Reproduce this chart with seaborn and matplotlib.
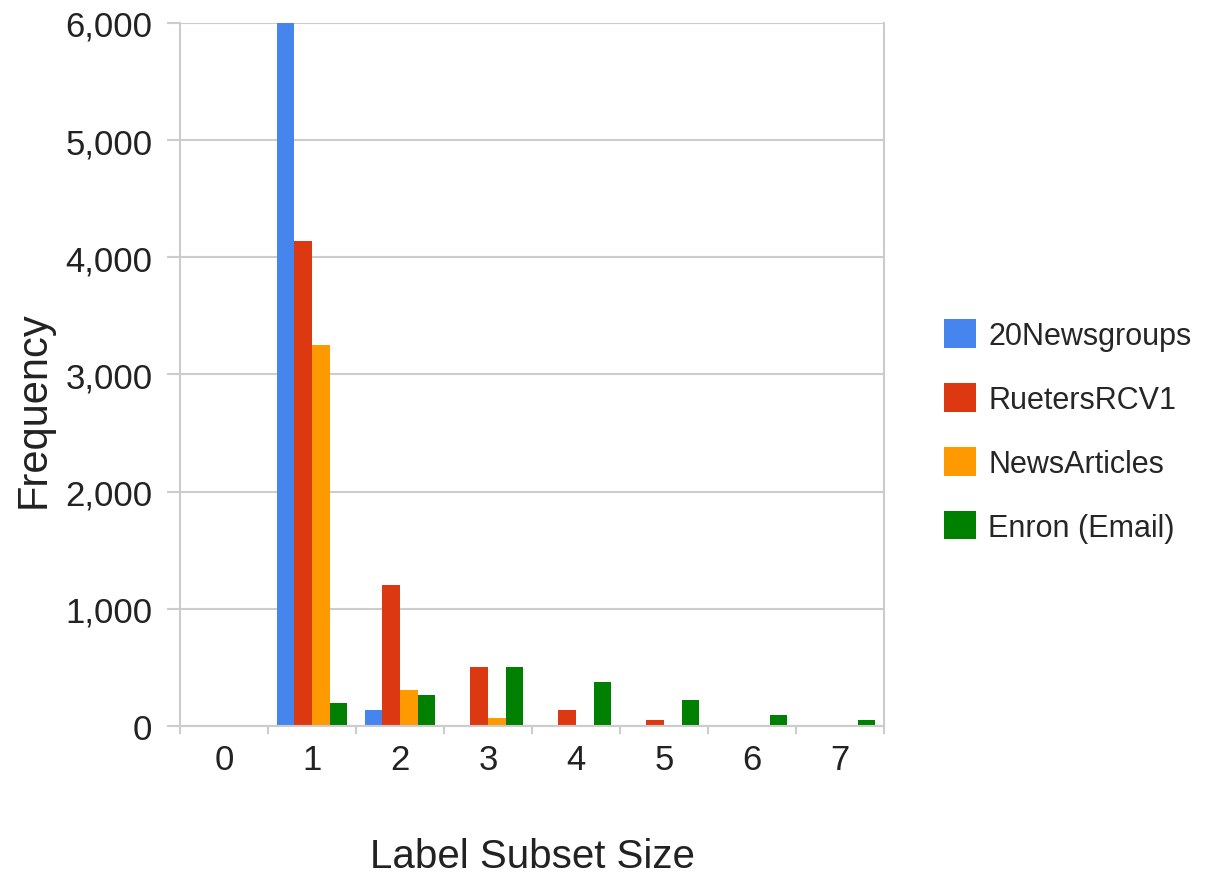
import numpy as np
import pandas as pd
import seaborn as sns
import matplotlib
matplotlib.use("Agg")
import matplotlib.pyplot as plt
from matplotlib.ticker import FuncFormatter, FixedLocator

subset_sizes = [0, 1, 2, 3, 4, 5, 6, 7]
newsgroups20 = [0, 6000, 135, 0, 0, 0, 0, 0]
reuters_rcv1 = [0, 4140, 1200, 500, 135, 50, 0, 0]
news_articles = [0, 3250, 310, 70, 0, 0, 0, 0]
enron_email = [0, 200, 265, 500, 375, 222, 90, 50]

series_names = ["20Newsgroups", "RuetersRCV1", "NewsArticles", "Enron (Email)"]
series_colors = ["#4684EE", "#DC3912", "#FF9900", "#008000"]

rows = []
for name, vals in zip(series_names, [newsgroups20, reuters_rcv1, news_articles, enron_email]):
    for s, v in zip(subset_sizes, vals):
        rows.append({"size": str(s), "dataset": name, "freq": v})
df = pd.DataFrame(rows)

sns.set_style("white")
plt.rcParams["font.family"] = ["Liberation Sans", "DejaVu Sans"]

TEXT = "#222222"
GRID = "#CCCCCC"

fig = plt.figure(figsize=(12.05, 8.78), dpi=100)
ax = fig.add_axes([0.1494, 0.172, 0.5842, 0.8007])

sns.barplot(data=df, x="size", y="freq", hue="dataset",
            order=[str(s) for s in subset_sizes], hue_order=series_names,
            palette=series_colors, width=0.8, saturation=1, ax=ax,
            edgecolor="none", legend=True)

ax.set_ylim(0, 6000)
ax.set_xlim(-0.5, len(subset_sizes) - 0.5)
ax.set_yticks(np.arange(0, 6001, 1000))
ax.yaxis.set_major_formatter(FuncFormatter(lambda v, p: f"{int(v):,}"))
ax.yaxis.grid(True, color=GRID, linewidth=1.5)
ax.set_axisbelow(True)

# category boundaries get the small tick marks, labels sit at the centres
ax.xaxis.set_minor_locator(FixedLocator(np.arange(-0.5, len(subset_sizes), 1.0)))
ax.tick_params(axis="x", which="major", length=0, pad=12, labelsize=25, colors=TEXT)
ax.tick_params(axis="x", which="minor", length=6, width=1.5, color=GRID,
               direction="out", bottom=True)
ax.tick_params(axis="y", which="major", length=9.4, width=1.5, color=GRID,
               pad=10.5, labelsize=25, labelcolor=TEXT, left=True)

for side in ["left", "right", "bottom"]:
    ax.spines[side].set_visible(True)
    ax.spines[side].set_color(GRID)
    ax.spines[side].set_linewidth(1.5)
ax.spines["top"].set_visible(False)

ax.set_xlabel("Label Subset Size", fontsize=29, color=TEXT, labelpad=44)
ax.set_ylabel("Frequency", fontsize=30, color=TEXT)
ax.yaxis.set_label_coords(-0.180, 0.452)

handles, labels = ax.get_legend_handles_labels()
ax.legend_.remove()
fig.legend(handles, labels, loc="center left", bbox_to_anchor=(0.7834, 0.508),
           frameon=False, fontsize=22, handlelength=1.05, handleheight=1.05,
           handletextpad=0.4, labelspacing=1.06, borderpad=0, borderaxespad=0)

fig.savefig("out.png", dpi=100)
